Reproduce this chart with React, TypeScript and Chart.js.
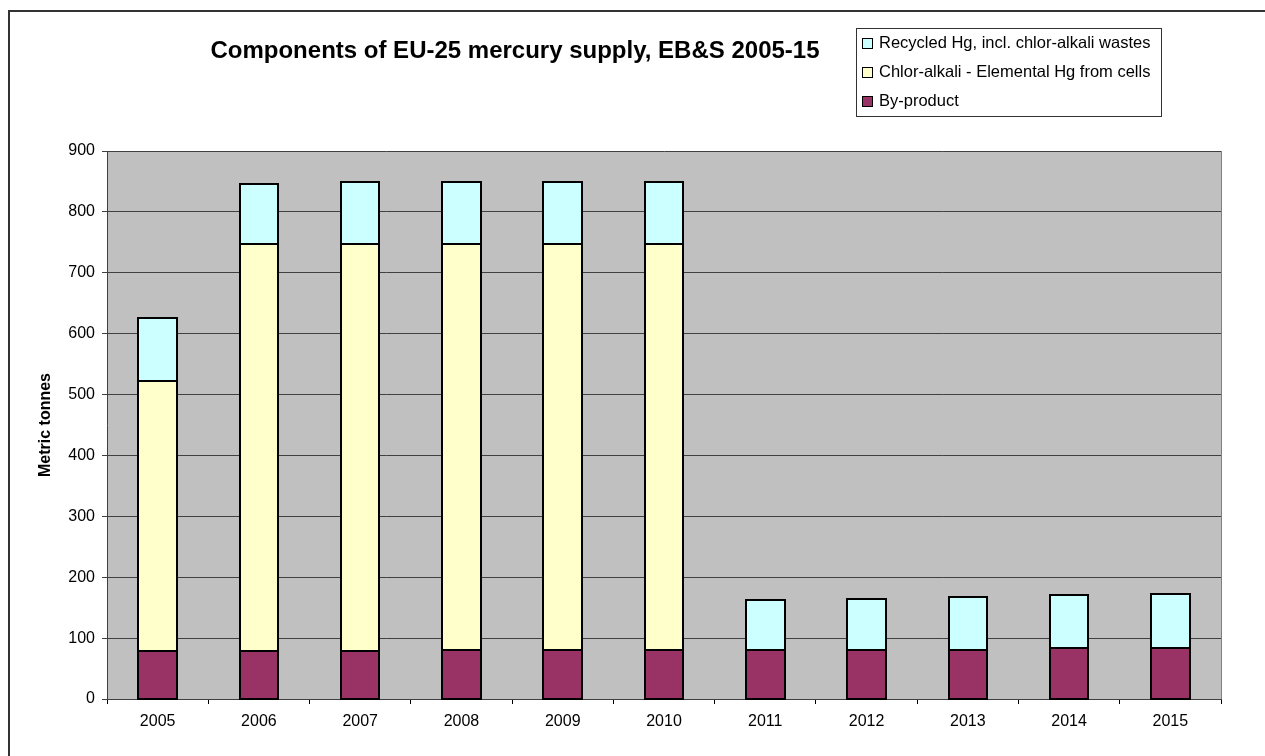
import React, { useEffect, useRef } from 'react';
import { Chart, registerables } from 'chart.js';

Chart.register(...registerables);

const FONT = '"Liberation Sans", Arial, sans-serif';

const chartTitle = 'Components of EU-25 mercury supply, EB&S 2005-15';
const yAxisTitle = 'Metric tonnes';
const years = ['2005', '2006', '2007', '2008', '2009', '2010', '2011', '2012', '2013', '2014', '2015'];
const byProduct = [79, 79, 79, 81, 81, 81, 81, 81, 81, 84, 84];
const chlorAlkali = [443, 668, 668, 666, 666, 666, null, null, null, null, null];
const recycled = [103, 99, 102, 102, 102, 102, 81, 84, 86, 87, 89];
const yTicks = [0, 100, 200, 300, 400, 500, 600, 700, 800, 900];

const seriesNames = {
  recycled: 'Recycled Hg, incl. chlor-alkali wastes',
  chlor: 'Chlor-alkali - Elemental Hg from cells',
  by: 'By-product',
};
const colors = { by: '#993366', chlor: '#FFFFCC', recycled: '#CCFFFF' };

const decor = {
  id: 'decor',
  beforeDraw(chart: any) {
    const { ctx, chartArea: a } = chart;
    ctx.save();
    ctx.fillStyle = '#ffffff';
    ctx.fillRect(0, 0, chart.width, chart.height);
    ctx.strokeStyle = '#333333';
    ctx.lineWidth = 2;
    ctx.beginPath();
    ctx.moveTo(9, 756);
    ctx.lineTo(9, 11);
    ctx.lineTo(1265, 11);
    ctx.stroke();
    ctx.fillStyle = '#C0C0C0';
    ctx.fillRect(a.left, a.top, a.right - a.left, a.bottom - a.top);
    ctx.restore();
  },
  afterDatasetsDraw(chart: any) {
    const { ctx } = chart;
    ctx.save();
    ctx.strokeStyle = '#000';
    ctx.lineWidth = 2;
    chart.data.datasets.forEach((_: any, i: number) => {
      const meta = chart.getDatasetMeta(i);
      meta.data.forEach((el: any, j: number) => {
        const v = chart.data.datasets[i].data[j];
        if (v == null) return;
        const { x, y, base, width } = el.getProps(['x', 'y', 'base', 'width'], true);
        const left = Math.round(x - width / 2);
        const right = Math.round(x + width / 2);
        const top = Math.round(y);
        const bottom = Math.round(base);
        ctx.strokeRect(left, top, right - left, bottom - top);
      });
    });
    ctx.restore();
  },
  afterDraw(chart: any) {
    const { ctx, chartArea: a } = chart;
    ctx.save();
    ctx.strokeStyle = '#808080';
    ctx.lineWidth = 1;
    ctx.beginPath();
    ctx.moveTo(a.right + 0.5, a.top);
    ctx.lineTo(a.right + 0.5, a.bottom);
    ctx.stroke();
    ctx.fillStyle = '#000';
    ctx.font = `bold 24px ${FONT}`;
    ctx.textAlign = 'center';
    ctx.textBaseline = 'alphabetic';
    ctx.fillText(chartTitle, 515, 58);
    const bx = 856, by = 28, bw = 305, bh = 88;
    ctx.fillStyle = '#fff';
    ctx.fillRect(bx, by, bw, bh);
    ctx.strokeStyle = '#333';
    ctx.lineWidth = 1;
    ctx.strokeRect(bx + 0.5, by + 0.5, bw, bh);
    const items = [
      [seriesNames.recycled, colors.recycled, 48],
      [seriesNames.chlor, colors.chlor, 77],
      [seriesNames.by, colors.by, 106],
    ];
    ctx.font = `16.5px ${FONT}`;
    ctx.textAlign = 'left';
    for (const [label, col, base] of items as any) {
      ctx.fillStyle = col;
      ctx.fillRect(862, base - 10, 11, 11);
      ctx.strokeStyle = '#000';
      ctx.strokeRect(862.5, base - 9.5, 10, 10);
      ctx.fillStyle = '#000';
      ctx.fillText(label, 879, base);
    }
    ctx.restore();
  },
};

export default function App() {
  const ref = useRef<HTMLCanvasElement>(null);
  useEffect(() => {
    if (!ref.current) return;
    const common = { borderWidth: 0, barPercentage: 0.38, categoryPercentage: 1 };
    const chart = new Chart(ref.current, {
      type: 'bar',
      data: {
        labels: years,
        datasets: [
          { label: seriesNames.by, data: byProduct, backgroundColor: colors.by, ...common },
          { label: seriesNames.chlor, data: chlorAlkali, backgroundColor: colors.chlor, ...common },
          { label: seriesNames.recycled, data: recycled, backgroundColor: colors.recycled, ...common },
        ],
      } as any,
      options: {
        responsive: false,
        animation: false,
        layout: { padding: { left: 32, right: 44, top: 151, bottom: 0 } },
        plugins: { legend: { display: false }, title: { display: false }, tooltip: { enabled: false } },
        scales: {
          x: {
            stacked: true,
            grid: { display: true, drawOnChartArea: false, drawTicks: true, tickLength: 5, color: '#000', offset: true },
            border: { display: true, color: '#404040', width: 1 },
            ticks: { color: '#000', font: { family: FONT, size: 16 }, padding: 8, maxRotation: 0, autoSkip: false },
            afterFit: (s: any) => { s.height = 57; },
          },
          y: {
            stacked: true,
            min: 0,
            max: 900,
            afterBuildTicks: (s: any) => { s.ticks = yTicks.map((v) => ({ value: v })); },
            grid: { color: '#404040', lineWidth: 1, tickLength: 5, drawTicks: true },
            border: { display: true, color: '#404040', width: 1 },
            ticks: { color: '#000', font: { family: FONT, size: 16 }, padding: 7 },
            title: { display: true, text: yAxisTitle, color: '#000', font: { family: FONT, size: 16, weight: 'bold' }, padding: { top: 4, bottom: 4 } },
            afterFit: (s: any) => { s.width = 75; },
          },
        },
      } as any,
      plugins: [decor],
    });
    return () => chart.destroy();
  }, []);
  return (
    <div style={{ position: 'absolute', left: 0, top: 0, width: 1265, height: 756 }}>
      <canvas ref={ref} width={1265} height={756} style={{ display: 'block', width: 1265, height: 756 }} />
    </div>
  );
}
